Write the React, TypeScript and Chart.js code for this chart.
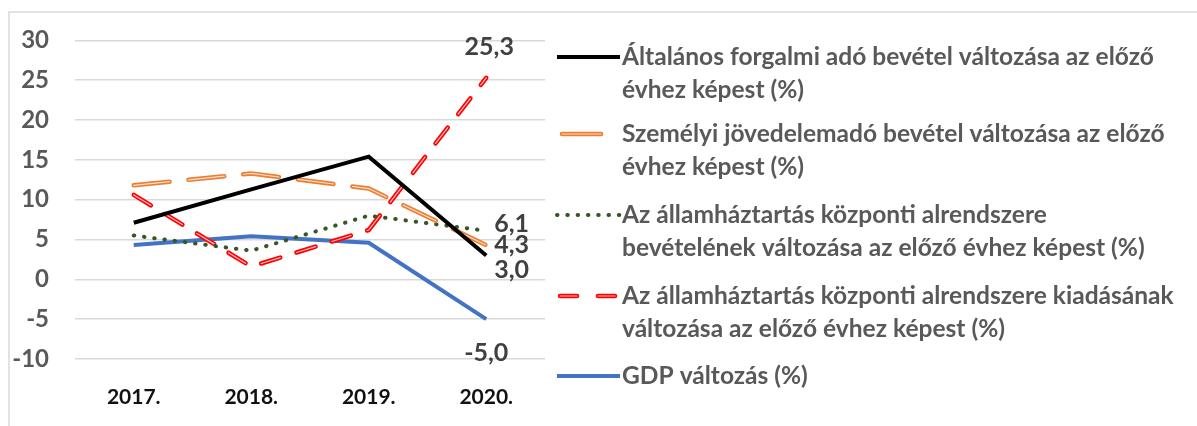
import { useEffect, useRef } from "react";
import { Chart, registerables } from "chart.js";

Chart.register(...registerables);

const years = ["2017.", "2018.", "2019.", "2020."];
const afaValues = [7.1, 11.3, 15.4, 3.0];
const szjaValues = [11.8, 13.3, 11.4, 4.3];
const kozpBevetelValues = [5.5, 3.6, 8.0, 6.1];
const kozpKiadasValues = [10.6, 1.6, 6.2, 25.3];
const gdpValues = [4.3, 5.4, 4.6, -5.0];

const yMin = -10;
const yMax = 30;
const yStep = 5;

const legendLines = [
  ["Általános forgalmi adó bevétel változása az előző", "évhez képest (%)"],
  ["Személyi jövedelemadó bevétel változása az előző", "évhez képest (%)"],
  ["Az államháztartás központi alrendszere", "bevételének változása az előző évhez képest (%)"],
  ["Az államháztartás központi alrendszere kiadásának", "változása az előző évhez képest (%)"],
  ["GDP változás (%)"],
];

const FONT = "Lato, 'Open Sans', sans-serif";

const fmt = (v: number) => v.toFixed(1).replace(".", ",");

const framePlugin = {
  id: "frame",
  beforeDraw(chart: any) {
    const ctx = chart.ctx;
    ctx.save();
    ctx.fillStyle = "#ffffff";
    ctx.fillRect(0, 0, chart.width, chart.height);
    ctx.strokeStyle = "#d9d9d9";
    ctx.lineWidth = 1.5;
    ctx.beginPath();
    ctx.moveTo(9, chart.height + 5);
    ctx.lineTo(9, 12);
    ctx.lineTo(chart.width + 5, 12);
    ctx.stroke();
    ctx.restore();
  },
};

const innerLinePlugin = {
  id: "innerLine",
  afterDatasetDraw(chart: any, args: any) {
    const ds = chart.data.datasets[args.index];
    if (!ds.innerLine) return;
    const pts = args.meta.data;
    const ctx = chart.ctx;
    ctx.save();
    ctx.strokeStyle = ds.innerLine;
    ctx.lineWidth = 1.2;
    ctx.lineCap = "round";
    ctx.lineJoin = "round";
    ctx.setLineDash(ds.borderDash || []);
    ctx.beginPath();
    pts.forEach((p: any, i: number) => {
      if (i === 0) ctx.moveTo(p.x, p.y);
      else ctx.lineTo(p.x, p.y);
    });
    ctx.stroke();
    ctx.restore();
  },
};

const labelPlugin = {
  id: "lastLabels",
  afterDatasetsDraw(chart: any) {
    const ctx = chart.ctx;
    ctx.save();
    ctx.font = `bold 25px ${FONT}`;
    ctx.fillStyle = "#404040";
    ctx.textBaseline = "middle";
    chart.data.datasets.forEach((ds: any, i: number) => {
      const meta = chart.getDatasetMeta(i);
      const last = meta.data.length - 1;
      const p = meta.data[last];
      const lo = ds.lastLabel;
      if (!lo) return;
      ctx.textAlign = lo.align;
      ctx.fillText(fmt(ds.data[last]), p.x + lo.dx, p.y + lo.dy);
    });
    ctx.restore();
  },
};

const legendPlugin = {
  id: "sideLegend",
  afterDraw(chart: any) {
    const ctx = chart.ctx;
    const x0 = 557;
    const x1 = 620;
    const tx = 622;
    const maxTextWidth = 552;
    const itemY = [57, 134, 215, 296, 376];
    const lh = 33;
    ctx.save();
    ctx.font = `bold 26px ${FONT}`;
    let widest = 0;
    legendLines.forEach((ls) => ls.forEach((t) => (widest = Math.max(widest, ctx.measureText(t).width))));
    const size = Math.min(26, (26 * maxTextWidth) / widest);
    chart.data.datasets.forEach((ds: any, i: number) => {
      const y = itemY[i];
      const s = ds.legendStart ?? x0;
      const e = ds.legendEnd ?? x1;
      ctx.save();
      ctx.strokeStyle = ds.borderColor;
      ctx.lineWidth = ds.borderWidth;
      ctx.lineCap = ds.borderCapStyle || "butt";
      ctx.setLineDash(ds.legendDash || ds.borderDash || []);
      ctx.beginPath();
      ctx.moveTo(s, y);
      ctx.lineTo(e, y);
      ctx.stroke();
      if (ds.innerLine) {
        ctx.strokeStyle = ds.innerLine;
        ctx.lineWidth = 1.2;
        ctx.beginPath();
        ctx.moveTo(s, y);
        ctx.lineTo(e, y);
        ctx.stroke();
      }
      ctx.restore();
      ctx.font = `bold ${size}px ${FONT}`;
      ctx.fillStyle = "#595959";
      ctx.textAlign = "left";
      ctx.textBaseline = "middle";
      legendLines[i].forEach((t, j) => ctx.fillText(t, tx, y + j * lh));
    });
    ctx.restore();
  },
};

export default function App() {
  const ref = useRef<HTMLCanvasElement>(null);
  useEffect(() => {
    if (!ref.current) return;
    const chart = new Chart(ref.current, {
      type: "line",
      data: {
        labels: years,
        datasets: [
          {
            label: legendLines[0].join(" "),
            data: afaValues,
            borderColor: "#000000",
            borderWidth: 4,
            pointRadius: 0,
            tension: 0,
            lastLabel: { align: "left", dx: 8, dy: 14 },
          } as any,
          {
            label: legendLines[1].join(" "),
            data: szjaValues,
            borderColor: "#ED7D31",
            borderWidth: 4.5,
            borderDash: [36, 19],
            borderCapStyle: "round",
            innerLine: "rgba(255,255,255,0.75)",
            legendDash: [],
            legendStart: 562,
            legendEnd: 601,
            pointRadius: 0,
            tension: 0,
            lastLabel: { align: "left", dx: 8, dy: 0 },
          } as any,
          {
            label: legendLines[2].join(" "),
            data: kozpBevetelValues,
            borderColor: "#375623",
            borderWidth: 4,
            borderDash: [0.5, 9.8],
            borderCapStyle: "round",
            pointRadius: 0,
            tension: 0,
            lastLabel: { align: "left", dx: 8, dy: -7 },
          } as any,
          {
            label: legendLines[3].join(" "),
            data: kozpKiadasValues,
            borderColor: "#FF0000",
            borderWidth: 4.5,
            borderDash: [20, 17],
            borderCapStyle: "round",
            innerLine: "rgba(255,255,255,0.75)",
            legendDash: [17, 21],
            legendStart: 560,
            legendEnd: 616,
            pointRadius: 0,
            tension: 0,
            lastLabel: { align: "center", dx: 3, dy: -31 },
          } as any,
          {
            label: legendLines[4].join(" "),
            data: gdpValues,
            borderColor: "#4472C4",
            borderWidth: 4,
            pointRadius: 0,
            tension: 0,
            lastLabel: { align: "center", dx: 0, dy: 34 },
          } as any,
        ],
      },
      options: {
        animation: false,
        responsive: true,
        maintainAspectRatio: false,
        layout: { padding: { left: 12, top: 33, right: 652, bottom: 0 } },
        plugins: {
          legend: { display: false },
          tooltip: { enabled: false },
          title: { display: false },
        },
        scales: {
          x: {
            offset: true,
            grid: { display: false, drawTicks: false },
            border: { display: false },
            ticks: {
              color: "#111111",
              font: { family: FONT, size: 21, weight: "bold" },
              padding: 26,
            },
            afterFit(scale: any) {
              scale.height = 67;
            },
          },
          y: {
            min: yMin,
            max: yMax,
            ticks: {
              stepSize: yStep,
              color: "#595959",
              font: { family: FONT, size: 24, weight: "bold" },
              padding: 26,
            },
            grid: { color: "#d9d9d9", lineWidth: 1.5, drawTicks: false },
            border: { display: false },
            afterFit(scale: any) {
              scale.width = 63;
            },
          },
        },
      },
      plugins: [framePlugin, innerLinePlugin, labelPlugin, legendPlugin],
    });
    return () => chart.destroy();
  }, []);
  return (
    <div style={{ position: "absolute", left: 0, top: 0, width: 1197, height: 426 }}>
      <canvas ref={ref} />
    </div>
  );
}
